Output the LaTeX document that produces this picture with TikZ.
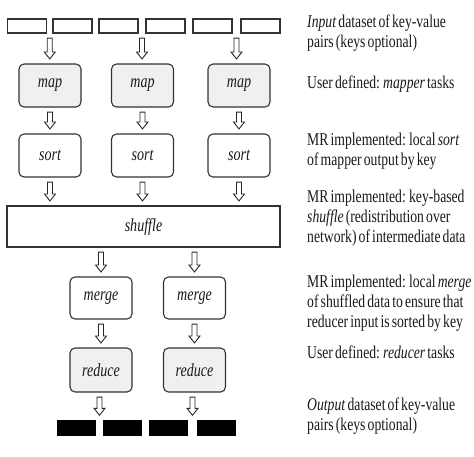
\documentclass[tikz,border=0pt]{standalone}
\usepackage{fontspec}
\setmainfont{Liberation Serif}[FakeStretch=0.76, WordSpace=0.62]
\usetikzlibrary{calc}
\tikzset{
  x=1pt, y=-1pt,
  inbox/.style={draw=black!80, line width=1.1pt, fill=white, minimum width=39pt, minimum height=14pt, inner sep=0pt},
  outbox/.style={fill=black, minimum width=39pt, minimum height=16pt, inner sep=0pt},
  task/.style={draw=black!80, line width=1.1pt, rounded corners=5pt, minimum width=62pt, minimum height=43pt, inner sep=0pt, font=\fontsize{18.5}{20}\selectfont\itshape, text=black!90},
  greytask/.style={task, fill=black!6},
  note/.style={anchor=base west, align=left, inner sep=0pt, font=\fontsize{18}{20}\selectfont, text=black!90},
  barrowline/.style={draw=black!85, line width=0.9pt, fill=white, line join=miter}
}
\newcommand{\barrow}[2]{%
  \path[barrowline] let \p1=($#1+(0,4.5)$), \p2=($#2+(0,-4.5)$) in
   (\x1-2.5pt,\y1) -- (\x1+2.5pt,\y1) -- (\x1+2.5pt,\y2+7pt) -- (\x1+5.5pt,\y2+7pt)
   -- (\x1,\y2) -- (\x1-5.5pt,\y2+7pt) -- (\x1-2.5pt,\y2+7pt) -- cycle;}
\begin{document}
\begin{tikzpicture}
\useasboundingbox (0,0) rectangle (474,456);
% input
\node[inbox] (in1) at (27,26) {};
\node[inbox] (in2) at (72.5,26) {};
\node[inbox] (in3) at (118.5,26) {};
\node[inbox] (in4) at (165.5,26) {};
\node[inbox] (in5) at (212.5,26) {};
\node[inbox] (in6) at (260.5,26) {};
% map
\node[greytask] (map1) at (50,85.5) {map};
\node[greytask] (map2) at (142.5,85.5) {map};
\node[greytask] (map3) at (239,85.5) {map};
% sort
\node[task] (sort1) at (50,155.5) {sort};
\node[task] (sort2) at (142.5,155.5) {sort};
\node[task] (sort3) at (239,155.5) {sort};
% shuffle
\node[task, rounded corners=0pt, minimum width=273pt, minimum height=41pt] (shuffle) at (143.5,226.5) {shuffle};
% merge
\node[task, minimum height=42pt] (merge1) at (101,298) {merge};
\node[task, minimum height=42pt] (merge2) at (194.5,298) {merge};
% reduce
\node[greytask, minimum height=44pt] (reduce1) at (101,370) {reduce};
\node[greytask, minimum height=44pt] (reduce2) at (194.5,370) {reduce};
% output
\node[outbox] (out1) at (76.5,428) {};
\node[outbox] (out2) at (122.5,428) {};
\node[outbox] (out3) at (168.5,428) {};
\node[outbox] (out4) at (216.5,428) {};
% arrows
\coordinate (g1) at ($(in1.south east)!0.5!(in2.south west)$);
\coordinate (g2) at ($(in3.south east)!0.5!(in4.south west)$);
\coordinate (g3) at ($(in5.south east)!0.5!(in6.south west)$);
\barrow{(g1)}{(g1 |- map1.north)}
\barrow{(g2)}{(g2 |- map2.north)}
\barrow{(g3)}{(g3 |- map3.north)}
\barrow{(map1.south)}{(sort1.north)}
\barrow{(map2.south)}{(sort2.north)}
\barrow{(map3.south)}{(sort3.north)}
\barrow{(sort1.south)}{(sort1.south |- shuffle.north)}
\barrow{(sort2.south)}{(sort2.south |- shuffle.north)}
\barrow{(sort3.south)}{(sort3.south |- shuffle.north)}
\barrow{(merge1.north |- shuffle.south)}{(merge1.north)}
\barrow{(merge2.north |- shuffle.south)}{(merge2.north)}
\barrow{(merge1.south)}{(reduce1.north)}
\barrow{(merge2.south)}{(reduce2.north)}
\coordinate (h1) at ($(out1.north east)!0.5!(out2.north west)$);
\coordinate (h2) at ($(out3.north east)!0.5!(out4.north west)$);
\barrow{(h1 |- reduce1.south)}{(h1)}
\barrow{(h2 |- reduce2.south)}{(h2)}
% notes (base anchor = baseline of the last line)
\node[note] (n1) at (307,47) {\textit{Input} dataset of key-value\\pairs (keys optional)};
\node[note] (n2) at (307,88) {User defined: \textit{mapper} tasks};
\node[note] (n3) at (307,165) {MR implemented: local \textit{sort}\\of mapper output by key};
\node[note] (n4) at (307,242) {MR implemented: key-based\\\textit{shuffle} (redistribution over\\network) of intermediate data};
\node[note] (n5) at (307,327) {MR implemented: local \textit{merge}\\of shuffled data to ensure that\\reducer input is sorted by key};
\node[note] (n6) at (307,358) {User defined: \textit{reducer} tasks};
\node[note] (n7) at (307,430) {\textit{Output} dataset of key-value\\pairs (keys optional)};
\end{tikzpicture}
\end{document}
